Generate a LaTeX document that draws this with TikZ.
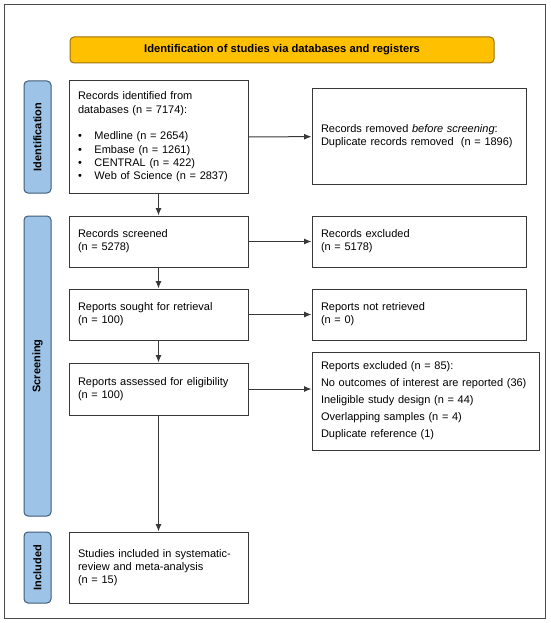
\documentclass[tikz,border=0pt]{standalone}
\usepackage{fontspec}
\setmainfont{Liberation Sans}
\usetikzlibrary{arrows.meta}
\definecolor{hdrfill}{HTML}{FFC000}
\definecolor{hdrline}{HTML}{9C6F0A}
\definecolor{lblfill}{HTML}{9DC3E6}
\definecolor{lblline}{HTML}{3E5C78}
\definecolor{boxline}{HTML}{383838}
\definecolor{frameline}{HTML}{4A4A4A}
\begin{document}
\begin{tikzpicture}[x=1pt,y=-1pt,
  flowbox/.style={draw=boxline, line width=1pt, fill=white, align=left,
    inner xsep=9pt, inner ysep=2pt, font=\fontsize{11}{13.3}\selectfont},
  stagelbl/.style={draw=lblline, line width=1pt, fill=lblfill, rounded corners=4pt,
    rotate=90, inner sep=0pt, font=\bfseries\fontsize{11}{13}\selectfont},
  flowarrow/.style={draw=boxline, line width=1pt, -{Latex[length=7.5pt,width=6pt]}}
]
\useasboundingbox (0,0) rectangle (550,623);
\node[draw=frameline, line width=1pt, minimum width=540.5pt, minimum height=613.5pt, inner sep=0pt] (frame) at (274.75,311.75) {};

\node[draw=hdrline, line width=1pt, fill=hdrfill, rounded corners=4pt,
  minimum width=424pt, minimum height=26pt, inner sep=0pt,
  font=\bfseries\fontsize{11.2}{13}\selectfont] (hdr) at (282,50)
  {Identification of studies via databases and registers};

\node[stagelbl, minimum width=112pt, minimum height=27pt] (lid) at (37.5,137) {Identification};
\node[stagelbl, minimum width=300pt, minimum height=27pt] (lsc) at (37.5,366) {Screening};
\node[stagelbl, minimum width=71pt, minimum height=27pt] (lin) at (37.5,567.5) {Included};

\node[flowbox, text width=161pt, minimum height=112pt] (ident) at (158.5,137)
  {Records identified from\\databases (n = 7174):\\[13.3pt]
   \makebox[16.5pt][l]{\textbullet}Medline (n = 2654)\\
   \makebox[16.5pt][l]{\textbullet}Embase (n = 1261)\\
   \makebox[16.5pt][l]{\textbullet}CENTRAL (n = 422)\\
   \makebox[16.5pt][l]{\textbullet}Web of Science (n = 2837)\\[8pt]};
\node[flowbox, text width=196pt, minimum height=95pt] (removed) at (419,136.5)
  {Records removed \textit{before screening}:\\Duplicate records removed~ (n = 1896)};

\node[flowbox, text width=161pt, minimum height=51pt] (screened) at (158.5,241.5)
  {Records screened\\(n = 5278)};
\node[flowbox, text width=196pt, minimum height=51pt] (excluded) at (419,241.5)
  {Records excluded\\(n = 5178)};

\node[flowbox, text width=161pt, minimum height=51pt] (sought) at (158.5,314.5)
  {Reports sought for retrieval\\(n = 100)};
\node[flowbox, text width=196pt, minimum height=51pt] (notret) at (419,314.5)
  {Reports not retrieved\\(n = 0)};

\node[flowbox, text width=161pt, minimum height=52pt] (assessed) at (158.5,389)
  {Reports assessed for eligibility\\(n = 100)};
\node[flowbox, text width=209pt, minimum height=98pt, font=\fontsize{11}{17}\selectfont] (repexcl) at (425.5,401)
  {Reports excluded (n = 85):\\No outcomes of interest are reported (36)\\Ineligible study design (n = 44)\\Overlapping samples (n = 4)\\Duplicate reference (1)};

\node[flowbox, text width=161pt, minimum height=71pt] (studies) at (158.5,567.5)
  {Studies included in systematic-\\review and meta-analysis\\(n = 15)};

\draw[flowarrow] (ident) -- (removed);
\draw[flowarrow] (ident) -- (screened);
\draw[flowarrow] (screened) -- (excluded);
\draw[flowarrow] (screened) -- (sought);
\draw[flowarrow] (sought) -- (notret);
\draw[flowarrow] (sought) -- (assessed);
\draw[flowarrow] (assessed.east) -- (assessed.east -| repexcl.west);
\draw[flowarrow] (assessed) -- (studies);
\end{tikzpicture}
\end{document}
